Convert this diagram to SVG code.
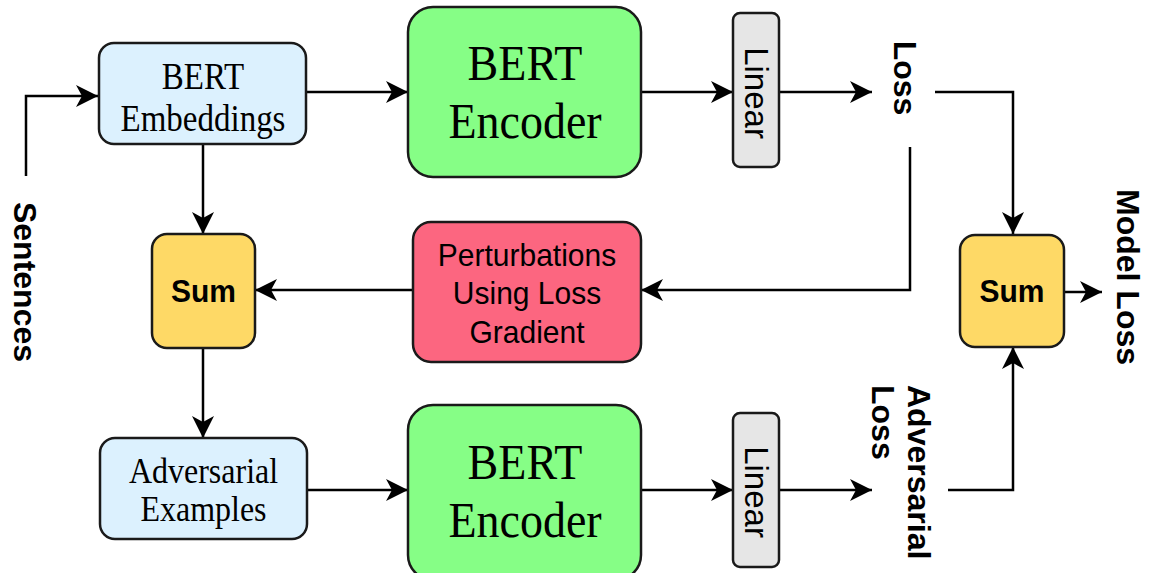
<svg xmlns="http://www.w3.org/2000/svg" width="1156" height="573" viewBox="0 0 1156 573">
<defs>
<marker id="arr" markerUnits="userSpaceOnUse" markerWidth="24" markerHeight="24" refX="22" refY="12" orient="auto" viewBox="0 0 24 24">
<path d="M0,1 L22,12 L0,23 L6,12 Z" fill="#000"/>
</marker>
<style>
.box{stroke:#1a1a1a;stroke-width:2.5}
.emb{fill:#dcf1fe}
.enc{fill:#86fe86}
.lin{fill:#e6e6e6}
.sum{fill:#fed966}
.pert{fill:#fc6680}
.serif{font-family:"Liberation Serif","Times New Roman",serif;fill:#000;text-anchor:middle}
.sans{font-family:"Liberation Sans",Arial,sans-serif;fill:#000;text-anchor:middle}
.bold{font-weight:bold}
.conn path{fill:none;stroke:#000;stroke-width:2.5;marker-end:url(#arr)}
</style>
</defs>
<rect width="1156" height="573" fill="#fff"/>

<g class="conn" id="connectors">
<path d="M26,176 V96 H98"/>
<path d="M306,92 H408"/>
<path d="M641,92 H733"/>
<path d="M779,92 H872"/>
<path d="M935,92 H1013 V234"/>
<path d="M910,147 V290 H641"/>
<path d="M413,290 H255"/>
<path d="M203,144 V234"/>
<path d="M203,348 V438"/>
<path d="M307,490 H408"/>
<path d="M641,490 H733"/>
<path d="M779,490 H872"/>
<path d="M948,490 H1013 V347"/>
<path d="M1064,292 H1102"/>
</g>

<g id="bert-embeddings">
<rect class="box emb" x="99" y="43" width="207" height="101" rx="15"/>
<text class="serif" font-size="33" transform="translate(203,89) scale(1,1.15)">BERT</text>
<text class="serif" font-size="33" transform="translate(203,131) scale(1,1.15)">Embeddings</text>
</g>

<g id="bert-encoder-top">
<rect class="box enc" x="408" y="7" width="233" height="170" rx="25"/>
<text class="serif" font-size="46" transform="translate(525,80) scale(1,1.08)">BERT</text>
<text class="serif" font-size="46" transform="translate(525,138) scale(1,1.08)">Encoder</text>
</g>

<g id="linear-top">
<rect class="box lin" x="733" y="13" width="46" height="154" rx="7"/>
<text class="sans" font-size="33" dominant-baseline="central" transform="translate(756,93) rotate(90)">Linear</text>
</g>

<g id="loss-label">
<text class="sans bold" font-size="32" dominant-baseline="central" transform="translate(905,78) rotate(90)">Loss</text>
</g>

<g id="sentences-label">
<text class="sans bold" font-size="32" dominant-baseline="central" transform="translate(25,282) rotate(90)">Sentences</text>
</g>

<g id="sum-left">
<rect class="box sum" x="152" y="234" width="103" height="114" rx="15"/>
<text class="sans bold" font-size="30" transform="translate(203.5,302) scale(1,1.05)">Sum</text>
</g>

<g id="perturbations">
<rect class="box pert" x="413" y="222" width="228" height="140" rx="18"/>
<text class="sans" font-size="30" transform="translate(527,266) scale(1,1.05)">Perturbations</text>
<text class="sans" font-size="30" transform="translate(527,304) scale(1,1.05)">Using Loss</text>
<text class="sans" font-size="30" transform="translate(527,343) scale(1,1.05)">Gradient</text>
</g>

<g id="sum-right">
<rect class="box sum" x="960" y="235" width="104" height="112" rx="15"/>
<text class="sans bold" font-size="30" transform="translate(1012,302) scale(1,1.05)">Sum</text>
</g>

<g id="model-loss-label">
<text class="sans bold" font-size="32" dominant-baseline="central" transform="translate(1128,277) rotate(90)">Model Loss</text>
</g>

<g id="adversarial-examples">
<rect class="box emb" x="100" y="438" width="207" height="101" rx="15"/>
<text class="serif" font-size="32" transform="translate(203.5,483) scale(1,1.15)">Adversarial</text>
<text class="serif" font-size="32" transform="translate(203.5,521) scale(1,1.15)">Examples</text>
</g>

<g id="bert-encoder-bottom">
<rect class="box enc" x="408" y="405" width="233" height="175" rx="25"/>
<text class="serif" font-size="46" transform="translate(525,479) scale(1,1.08)">BERT</text>
<text class="serif" font-size="46" transform="translate(525,537) scale(1,1.08)">Encoder</text>
</g>

<g id="linear-bottom">
<rect class="box lin" x="733" y="413" width="46" height="154" rx="7"/>
<text class="sans" font-size="33" dominant-baseline="central" transform="translate(756,492) rotate(90)">Linear</text>
</g>

<g id="adversarial-loss-label">
<text class="sans bold" font-size="32" dominant-baseline="central" style="text-anchor:start" transform="translate(919,385) rotate(90)">Adversarial</text>
<text class="sans bold" font-size="32" dominant-baseline="central" style="text-anchor:start" transform="translate(883,385) rotate(90)">Loss</text>
</g>
</svg>
